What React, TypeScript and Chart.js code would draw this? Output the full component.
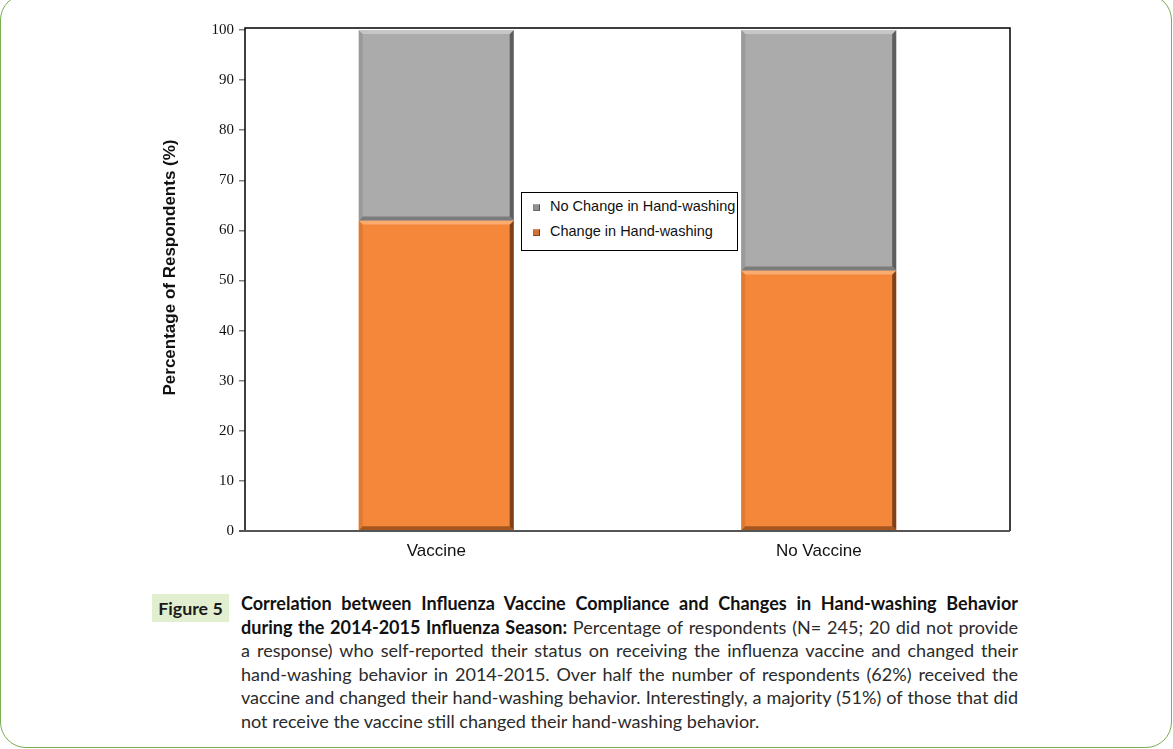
import React, { useEffect, useRef } from "react";
import { Chart, registerables } from "chart.js";

Chart.register(...registerables);

// ---- Data ----
const categories = ["Vaccine", "No Vaccine"];
const changeValues = [62, 52];
const noChangeValues = [38, 48];
const yTickValues = [0, 10, 20, 30, 40, 50, 60, 70, 80, 90, 100];
const seriesLabels = ["Change in Hand-washing", "No Change in Hand-washing"];
const yAxisTitle = "Percentage of Respondents (%)";

// ---- Styles ----
const seriesColors = ["#f5873b", "#ababab"];
const bevelColors = [
  { top: "#f9ac70", left: "#e07a33", right: "#7d421a", bottom: "#a5561f" },
  { top: "#c6c6c6", left: "#9a9a9a", right: "#5e5e5e", bottom: "#7c7c7c" },
];

const bevelPlugin = {
  id: "bevel",
  afterDatasetsDraw(chart: any) {
    const ctx = chart.ctx;
    chart.data.datasets.forEach((_ds: any, di: number) => {
      const meta = chart.getDatasetMeta(di);
      const c = bevelColors[di];
      meta.data.forEach((bar: any) => {
        const p = bar.getProps(["x", "y", "base", "width"], true);
        const x0 = p.x - p.width / 2;
        const x1 = p.x + p.width / 2;
        const y0 = Math.min(p.y, p.base);
        const y1 = Math.max(p.y, p.base);
        const b = 4;
        const poly = (pts: number[][], col: string) => {
          ctx.beginPath();
          ctx.moveTo(pts[0][0], pts[0][1]);
          for (let i = 1; i < pts.length; i++) ctx.lineTo(pts[i][0], pts[i][1]);
          ctx.closePath();
          ctx.fillStyle = col;
          ctx.fill();
        };
        ctx.save();
        poly([[x0, y0], [x0 + b, y0 + b], [x0 + b, y1 - b], [x0, y1]], c.left);
        poly([[x1, y0], [x1 - b, y0 + b], [x1 - b, y1 - b], [x1, y1]], c.right);
        poly([[x0, y1], [x0 + b, y1 - b], [x1 - b, y1 - b], [x1, y1]], c.bottom);
        poly([[x0, y0], [x1, y0], [x1 - b, y0 + b], [x0 + b, y0 + b]], c.top);
        ctx.restore();
      });
    });
  },
};

const framePlugin = {
  id: "frame",
  afterDatasetsDraw(chart: any) {
    const { left, right, top, bottom } = chart.chartArea;
    const ctx = chart.ctx;
    ctx.save();
    ctx.strokeStyle = "#000";
    ctx.lineWidth = 1.5;
    ctx.beginPath();
    ctx.moveTo(left, bottom);
    ctx.lineTo(left, top);
    ctx.lineTo(right, top);
    ctx.lineTo(right, bottom);
    ctx.stroke();
    ctx.strokeStyle = "#555";
    ctx.lineWidth = 2;
    ctx.beginPath();
    ctx.moveTo(left - 6, bottom);
    ctx.lineTo(right, bottom);
    ctx.stroke();
    ctx.restore();
  },
};

// Y-axis title drawn a little above the plot's vertical centre, as in the reference
const yTitlePlugin = {
  id: "yTitle",
  afterDraw(chart: any) {
    const ctx = chart.ctx;
    const { top, bottom } = chart.chartArea;
    ctx.save();
    ctx.translate(170, (top + bottom) / 2 - 12);
    ctx.rotate(-Math.PI / 2);
    ctx.font = "bold 17px 'Liberation Sans', Arial, sans-serif";
    ctx.fillStyle = "#111";
    ctx.textAlign = "center";
    ctx.textBaseline = "middle";
    ctx.fillText(yAxisTitle, 0, 0);
    ctx.restore();
  },
};

function ChartCanvas() {
  const ref = useRef<HTMLCanvasElement | null>(null);
  useEffect(() => {
    if (!ref.current) return;
    const chart = new Chart(ref.current, {
      type: "bar",
      data: {
        labels: categories,
        datasets: [
          {
            label: seriesLabels[0],
            data: changeValues,
            backgroundColor: seriesColors[0],
            borderWidth: 0,
          },
          {
            label: seriesLabels[1],
            data: noChangeValues,
            backgroundColor: seriesColors[1],
            borderWidth: 0,
          },
        ],
      },
      options: {
        animation: false,
        responsive: false,
        maintainAspectRatio: false,
        layout: { padding: { left: 160, right: 163, top: 28, bottom: 9 } },
        datasets: { bar: { categoryPercentage: 1, barPercentage: 0.405 } },
        plugins: { legend: { display: false }, tooltip: { enabled: false } },
        scales: {
          x: {
            stacked: true,
            grid: { display: false, drawTicks: false },
            border: { display: false },
            ticks: {
              padding: 10,
              color: "#111",
              font: { family: "'Liberation Sans', Arial, sans-serif", size: 17 },
            },
            afterFit(scale: any) {
              scale.height = 40;
            },
          },
          y: {
            stacked: true,
            min: 0,
            max: 100.4,
            afterBuildTicks(scale: any) {
              scale.ticks = yTickValues.map((v) => ({ value: v }));
            },
            grid: {
              drawOnChartArea: false,
              drawTicks: true,
              tickLength: 6,
              color: "#808080",
              lineWidth: 1.5,
            },
            border: { display: false },
            ticks: {
              padding: 5,
              color: "#111",
              font: { family: "'Liberation Serif', 'Times New Roman', serif", size: 15 },
            },
            title: { display: false },
            afterFit(scale: any) {
              scale.width = 85;
            },
          },
        },
      },
      plugins: [bevelPlugin, framePlugin, yTitlePlugin],
    } as any);
    return () => chart.destroy();
  }, []);
  return (
    <canvas
      ref={ref}
      width={1173}
      height={580}
      style={{ position: "absolute", left: 0, top: 0, width: 1173, height: 580 }}
    />
  );
}

const legendOrder = [1, 0];

function Legend() {
  return (
    <div
      style={{
        position: "absolute",
        left: 521,
        top: 192,
        width: 215,
        height: 57,
        border: "1.5px solid #000",
        background: "#fff",
        fontFamily: "'Liberation Sans', Arial, sans-serif",
        fontSize: 14.5,
        color: "#111",
      }}
    >
      {legendOrder.map((si, i) => (
        <div
          key={si}
          style={{ position: "absolute", left: 0, top: 4 + i * 25, height: 20, width: "100%" }}
        >
          <div
            style={{
              position: "absolute",
              left: 11,
              top: 7,
              width: 7,
              height: 7,
              background: seriesColors[si],
              borderTop: `1px solid ${bevelColors[si].top}`,
              borderLeft: `1px solid ${bevelColors[si].left}`,
              borderRight: `1px solid ${bevelColors[si].right}`,
              borderBottom: `1px solid ${bevelColors[si].bottom}`,
              boxSizing: "border-box",
              filter: "brightness(0.85)",
            }}
          />
          <div style={{ position: "absolute", left: 28, top: 1, whiteSpace: "nowrap" }}>
            {seriesLabels[si]}
          </div>
        </div>
      ))}
    </div>
  );
}

const captionBold1 = "Correlation between Influenza Vaccine Compliance and Changes in Hand-washing Behavior";
const captionBold2 = "during the 2014-2015 Influenza Season:";
const captionLines = [
  " Percentage of respondents (N= 245; 20 did not provide",
  "a response) who self-reported their status on receiving the influenza vaccine and changed their",
  "hand-washing behavior in 2014-2015. Over half the number of respondents (62%) received the",
  "vaccine and changed their hand-washing behavior. Interestingly, a majority (51%) of those that did",
  "not receive the vaccine still changed their hand-washing behavior.",
];

function Caption() {
  const lineStyle: React.CSSProperties = {
    height: 23.6,
    lineHeight: "23.6px",
    textAlign: "justify",
    textAlignLast: "justify" as any,
    whiteSpace: "nowrap",
  };
  return (
    <>
      <div
        style={{
          position: "absolute",
          left: 152,
          top: 594,
          width: 77,
          height: 28,
          background: "#e1eecf",
          fontFamily: "Lato, 'Open Sans', sans-serif",
          fontWeight: "bold",
          fontSize: 17.8,
          color: "#1a1a1a",
          lineHeight: "28px",
          textAlign: "center",
        }}
      >
        Figure 5
      </div>
      <div
        style={{
          position: "absolute",
          left: 241,
          top: 592,
          width: 777,
          fontFamily: "Lato, 'Open Sans', sans-serif",
          fontSize: 18.05,
          color: "#2b2b2b",
        }}
      >
        <div style={{ ...lineStyle, fontWeight: "bold", color: "#111" }}>{captionBold1}</div>
        <div style={lineStyle}>
          <span style={{ fontWeight: "bold", color: "#111" }}>{captionBold2}</span>
          {captionLines[0]}
        </div>
        <div style={lineStyle}>{captionLines[1]}</div>
        <div style={lineStyle}>{captionLines[2]}</div>
        <div style={lineStyle}>{captionLines[3]}</div>
        <div style={{ ...lineStyle, textAlignLast: "left" as any }}>{captionLines[4]}</div>
      </div>
    </>
  );
}

export default function App() {
  return (
    <div
      style={{
        position: "absolute",
        left: 0,
        top: 0,
        width: 1173,
        height: 749,
        overflow: "hidden",
        background: "#fff",
      }}
    >
      <div
        style={{
          position: "absolute",
          left: 0,
          top: -6,
          width: 1172,
          height: 754,
          border: "1.5px solid #79ad52",
          borderRadius: 26,
          boxSizing: "border-box",
        }}
      />
      <ChartCanvas />
      <Legend />
      <Caption />
    </div>
  );
}
